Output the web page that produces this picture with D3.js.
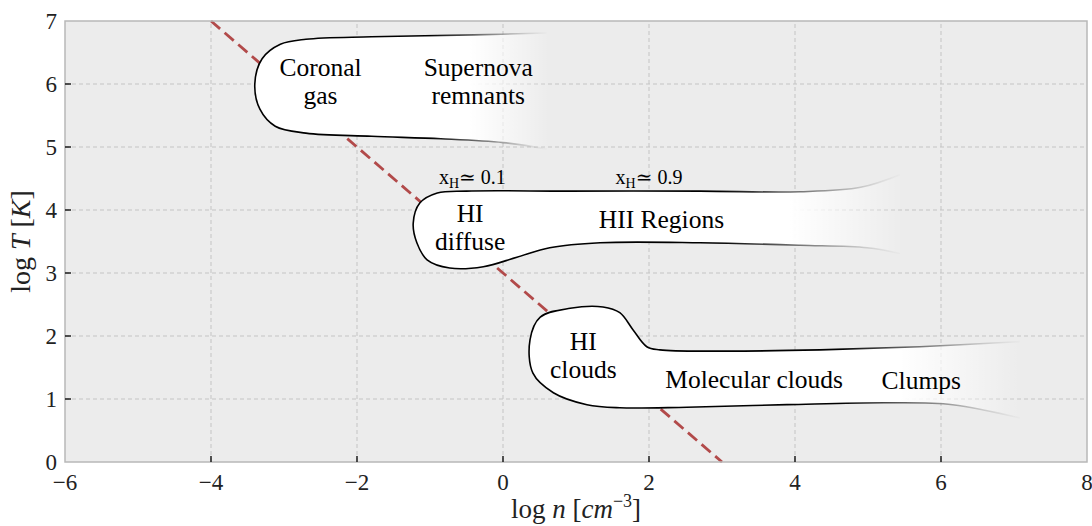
<!DOCTYPE html>
<html><head><meta charset="utf-8">
<script src="https://cdn.jsdelivr.net/npm/d3@7"></script>
<style>body{margin:0;background:#fff}svg{display:block}</style>
</head><body><svg id="c" width="1092" height="526"></svg>
<script>
// ---- data ----
const xTicks = [-6,-4,-2,0,2,4,6,8];
const yTicks = [0,1,2,3,4,5,6,7];
const coolingLine = [[-4,7],[3,0]];           // log T = 3 - log n
const blobCoronal = [[0.6,6.81],[-0.4,6.78],[-1.8,6.75],[-2.7,6.71],[-3.05,6.63],[-3.3,6.4],[-3.4,6.0],[-3.33,5.6],[-3.12,5.33],[-2.7,5.22],[-1.8,5.17],[-0.85,5.13],[0.0,5.07],[0.6,4.97]];
const blobHII = [[5.44,4.56],[4.9,4.36],[4.07,4.29],[2.7,4.30],[0.88,4.30],[-0.5,4.30],[-0.9,4.27],[-1.14,4.11],[-1.23,3.79],[-1.18,3.48],[-1.04,3.21],[-0.73,3.08],[-0.27,3.10],[0.19,3.25],[0.64,3.40],[1.33,3.48],[2.7,3.48],[4.07,3.44],[4.99,3.40],[5.44,3.31]];
const blobClouds = [[7.08,1.91],[5.71,1.83],[4.34,1.78],[2.97,1.76],[2.15,1.78],[1.97,1.83],[1.78,2.1],[1.6,2.37],[1.37,2.46],[0.92,2.44],[0.51,2.30],[0.37,1.94],[0.41,1.41],[0.69,1.10],[1.15,0.91],[1.6,0.86],[2.52,0.87],[3.89,0.91],[5.26,0.94],[6.16,0.91],[7.08,0.70]];
const blobFades = [[-0.45,0.64,-1.0,0.64],[3.93,5.5,2.97,5.5],[5.44,7.08,4.6,7.15]];
const regionLabels = [
  {t:["Coronal","gas"], x:-2.5, y:6.05},
  {t:["Supernova","remnants"], x:-0.34, y:6.05},
  {t:["HI","diffuse"], x:-0.45, y:3.73},
  {t:["HII Regions"], x:2.17, y:3.86},
  {t:["HI","clouds"], x:1.1, y:1.7},
  {t:["Molecular clouds"], x:3.44, y:1.32},
  {t:["Clumps"], x:5.73, y:1.3}
];
const ionLabels = [{v:"0.1", x:-0.42, y:4.53},{v:"0.9", x:2.0, y:4.53}];

// ---- layout ----
const W=1092,H=526,m={l:65,r:5,t:21,b:64};
const svg=d3.select("#c");
const x=d3.scaleLinear().domain([-6,8]).range([m.l,W-m.r]);
const y=d3.scaleLinear().domain([0,7]).range([H-m.b,m.t]);
const serif="'Liberation Serif','DejaVu Serif',serif";

svg.append("rect").attr("x",x(-6)).attr("y",y(7)).attr("width",x(8)-x(-6)).attr("height",y(0)-y(7)).attr("fill","#ececec");

// grid
const g=svg.append("g");
g.selectAll(".gx").data(xTicks.filter(d=>d>-6&&d<8)).join("line")
 .attr("x1",d=>x(d)).attr("x2",d=>x(d)).attr("y1",y(0)).attr("y2",y(7))
 .attr("stroke","#c4c4c4").attr("stroke-width",1).attr("stroke-dasharray","4,3");
g.selectAll(".gy").data(yTicks.filter(d=>d>0&&d<7)).join("line")
 .attr("x1",x(-6)).attr("x2",x(8)).attr("y1",d=>y(d)).attr("y2",d=>y(d))
 .attr("stroke","#c4c4c4").attr("stroke-width",1).attr("stroke-dasharray","4,3");

// dashed line
svg.append("path").datum(coolingLine)
 .attr("d",d3.line().x(d=>x(d[0])).y(d=>y(d[1])))
 .attr("stroke","#b24a4a").attr("stroke-width",2.8).attr("stroke-dasharray","12,6").attr("fill","none");

// blobs
const defs=svg.append("defs");
const line=d3.line().x(d=>x(d[0])).y(d=>y(d[1])).curve(d3.curveCatmullRom.alpha(0.5));
[blobCoronal,blobHII,blobClouds].forEach((b,i)=>{
  const f=blobFades[i];
  const gf=defs.append("linearGradient").attr("id","gf"+i).attr("gradientUnits","userSpaceOnUse")
    .attr("x1",x(f[0])).attr("x2",x(f[1])).attr("y1",0).attr("y2",0);
  gf.append("stop").attr("offset",0).attr("stop-color","#fff").attr("stop-opacity",1);
  gf.append("stop").attr("offset",1).attr("stop-color","#fff").attr("stop-opacity",0);
  const gs=defs.append("linearGradient").attr("id","gs"+i).attr("gradientUnits","userSpaceOnUse")
    .attr("x1",x(f[2])).attr("x2",x(f[3])).attr("y1",0).attr("y2",0);
  gs.append("stop").attr("offset",0).attr("stop-color","#000").attr("stop-opacity",1);
  gs.append("stop").attr("offset",0.55).attr("stop-color","#777").attr("stop-opacity",0.8);
  gs.append("stop").attr("offset",1).attr("stop-color","#aaa").attr("stop-opacity",0);
  svg.append("path").datum(b).attr("d",line)
    .attr("fill","url(#gf"+i+")").attr("stroke","url(#gs"+i+")").attr("stroke-width",1.6);
});

// frame
svg.append("rect").attr("x",x(-6)).attr("y",y(7)).attr("width",x(8)-x(-6)).attr("height",y(0)-y(7))
 .attr("fill","none").attr("stroke","#b8b8b8").attr("stroke-width",1.5);

// ticks
svg.selectAll(".tx").data(xTicks.filter(d=>d>-6&&d<8)).join("line")
 .attr("x1",d=>x(d)).attr("x2",d=>x(d)).attr("y1",y(0)).attr("y2",y(0)-6).attr("stroke","#000").attr("stroke-width",1.3);
svg.selectAll(".ty").data(yTicks.filter(d=>d>0&&d<7)).join("line")
 .attr("x1",x(-6)).attr("x2",x(-6)+6).attr("y1",d=>y(d)).attr("y2",d=>y(d)).attr("stroke","#000").attr("stroke-width",1.3);

svg.selectAll(".lx").data(xTicks).join("text")
 .attr("x",d=>x(d)).attr("y",y(0)+28).attr("text-anchor","middle")
 .attr("font-family",serif).attr("font-size",23).attr("fill","#222")
 .text(d=>d<0?"\u2212"+Math.abs(d):d);
svg.selectAll(".ly").data(yTicks).join("text")
 .attr("x",x(-6)-8).attr("y",d=>y(d)+8).attr("text-anchor","end")
 .attr("font-family",serif).attr("font-size",23).attr("fill","#222")
 .text(d=>d);

// axis titles
const xt=svg.append("text").attr("x",(x(-6)+x(8))/2).attr("y",518).attr("text-anchor","middle")
 .attr("font-family",serif).attr("font-size",27).attr("fill","#222");
xt.append("tspan").text("log ");
xt.append("tspan").attr("font-style","italic").text("n");
xt.append("tspan").text(" [");
xt.append("tspan").attr("font-style","italic").text("cm");
xt.append("tspan").attr("font-size",18).attr("dy",-11).text("\u22123");
xt.append("tspan").attr("dy",11).text("]");
const yt=svg.append("text").attr("transform",`translate(30,${(y(0)+y(7))/2}) rotate(-90)`).attr("text-anchor","middle")
 .attr("font-family",serif).attr("font-size",28).attr("fill","#222");
yt.append("tspan").text("log ");
yt.append("tspan").attr("font-style","italic").text("T");
yt.append("tspan").text(" [");
yt.append("tspan").attr("font-style","italic").text("K");
yt.append("tspan").text("]");

// region labels
regionLabels.forEach(L=>{
  const n=L.t.length;
  L.t.forEach((s,k)=>{
    svg.append("text").attr("text-anchor","middle").attr("font-family",serif).attr("font-size",25.5).attr("fill","#000")
      .attr("x",x(L.x)).attr("y",y(L.y)+9+(k-(n-1)/2)*28.5).text(s);
  });
});
ionLabels.forEach(L=>{
  const t=svg.append("text").attr("x",x(L.x)).attr("y",y(L.y)+7).attr("text-anchor","middle")
   .attr("font-family",serif).attr("font-size",20).attr("fill","#000");
  t.append("tspan").text("x");
  t.append("tspan").attr("font-size",14).attr("dy",4).text("H");
  t.append("tspan").attr("dy",-4).text("\u2243 "+L.v);
});
</script></body></html>
